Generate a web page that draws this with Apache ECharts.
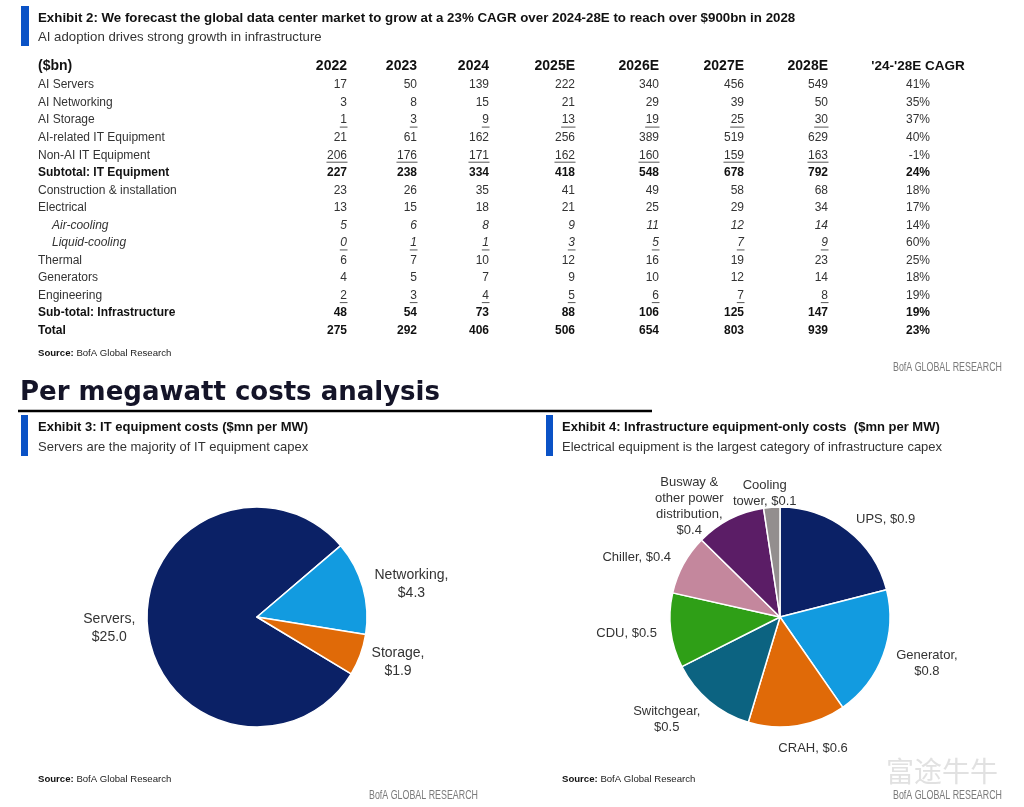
<!DOCTYPE html>
<html>
<head>
<meta charset="utf-8">
<script src="https://cdn.jsdelivr.net/npm/echarts@6/dist/echarts.min.js"></script>
<style>html,body{margin:0;padding:0;background:#fff}#c{width:1024px;height:807px}</style>
</head>
<body>
<div id="c"></div>
<script>
// ---------- Exhibit 2 table data ----------
const years = ['2022', '2023', '2024', '2025E', '2026E', '2027E', '2028E'];
const cagrHeader = "'24-'28E CAGR";
const rowLabels = [
  'AI Servers', 'AI Networking', 'AI Storage', 'AI-related IT Equipment', 'Non-AI IT Equipment',
  'Subtotal: IT Equipment', 'Construction & installation', 'Electrical', 'Air-cooling', 'Liquid-cooling',
  'Thermal', 'Generators', 'Engineering', 'Sub-total: Infrastructure', 'Total'
];
const aiServers     = [17, 50, 139, 222, 340, 456, 549];
const aiNetworking  = [3, 8, 15, 21, 29, 39, 50];
const aiStorage     = [1, 3, 9, 13, 19, 25, 30];
const aiRelatedIT   = [21, 61, 162, 256, 389, 519, 629];
const nonAiIT       = [206, 176, 171, 162, 160, 159, 163];
const subtotalIT    = [227, 238, 334, 418, 548, 678, 792];
const construction  = [23, 26, 35, 41, 49, 58, 68];
const electrical    = [13, 15, 18, 21, 25, 29, 34];
const airCooling    = [5, 6, 8, 9, 11, 12, 14];
const liquidCooling = [0, 1, 1, 3, 5, 7, 9];
const thermal       = [6, 7, 10, 12, 16, 19, 23];
const generators    = [4, 5, 7, 9, 10, 12, 14];
const engineering   = [2, 3, 4, 5, 6, 7, 8];
const subtotalInfra = [48, 54, 73, 88, 106, 125, 147];
const totalRow      = [275, 292, 406, 506, 654, 803, 939];
const cagr = [41, 35, 37, 40, -1, 24, 18, 17, 14, 60, 25, 18, 19, 19, 23];

// ---------- Exhibit 3 / 4 pie data ----------
const itNames = ['Servers', 'Networking', 'Storage'];
const itValues = [25.0, 4.3, 1.9];
const infraNames = ['UPS', 'Generator', 'CRAH', 'Switchgear', 'CDU', 'Chiller',
  'Busway &\nother power\ndistribution', 'Cooling\ntower'];
const infraValues = [0.88, 0.81, 0.60, 0.54, 0.46, 0.37, 0.43, 0.10];

// ---------- styles ----------
const tableRows = [aiServers, aiNetworking, aiStorage, aiRelatedIT, nonAiIT, subtotalIT, construction,
  electrical, airCooling, liquidCooling, thermal, generators, engineering, subtotalInfra, totalRow];
const boldRows = [5, 13, 14];
const italicRows = [8, 9];
const underlineRows = [2, 4, 9, 12];
const infraBreak = [false, true, false, true, false, false, true, false];
const itColors = ['#0b2166', '#129be0', '#e06a08'];
const infraColors = ['#0b2166', '#129be0', '#e06a08', '#0c6381', '#2f9f17', '#c4879d', '#5b1d66', '#938e8e'];

const FONT = '"Liberation Sans", Arial, Helvetica, sans-serif';
const mctx = document.createElement('canvas').getContext('2d');
function fontStr(size, weight, italic) {
  return (italic ? 'italic ' : '') + (weight || 'normal') + ' ' + size + 'px ' + FONT;
}
function measure(text, font) { mctx.font = font; return mctx.measureText(text).width; }
function T(text, x, y, font, fill, align, extra) {
  const el = { type: 'text', x: x, y: y, silent: true,
    style: { text: text, font: font, fill: fill || '#333', align: align || 'left', verticalAlign: 'middle' } };
  if (extra) Object.assign(el, extra);
  return el;
}

const els = [];
// Exhibit 2 header
els.push({ type: 'rect', shape: { x: 21, y: 6, width: 8, height: 40 }, style: { fill: '#0a52c6' }, silent: true });
els.push(T('Exhibit 2: We forecast the global data center market to grow at a 23% CAGR over 2024-28E to reach over $900bn in 2028',
  38, 18, fontStr(13.3, 'bold'), '#111'));
els.push(T('AI adoption drives strong growth in infrastructure', 38, 37, fontStr(13.2), '#333'));

// table header
const colRight = [347, 417, 489, 575, 659, 744, 828];
const cagrRight = 930, cagrCenter = 918;
const headY = 66;
els.push(T('($bn)', 38, headY, fontStr(14, 'bold'), '#111'));
years.forEach((y, j) => els.push(T(y, colRight[j], headY, fontStr(14, 'bold'), '#111', 'right')));
els.push(T(cagrHeader, cagrCenter, headY, fontStr(13.5, 'bold'), '#111', 'center'));

// table rows
tableRows.forEach((vals, i) => {
  const y = 85 + i * 17.55;
  const bold = boldRows.indexOf(i) >= 0;
  const ital = italicRows.indexOf(i) >= 0;
  const under = underlineRows.indexOf(i) >= 0;
  const color = bold ? '#111' : '#333';
  els.push(T(rowLabels[i], ital ? 52 : 38, y, fontStr(12, bold ? 'bold' : 'normal', ital), color));
  vals.forEach((v, j) => {
    const f = fontStr(12, bold ? 'bold' : 'normal', ital);
    const s = String(v);
    els.push(T(s, colRight[j], y, f, color, 'right'));
    if (under) {
      const w = measure(s, f);
      els.push({ type: 'line', silent: true, shape: { x1: colRight[j] - w - 0.5, y1: y + 7, x2: colRight[j] + 0.5, y2: y + 7 },
        style: { stroke: '#555', lineWidth: 1 } });
    }
  });
  els.push(T(cagr[i] + '%', cagrRight, y, fontStr(12, bold ? 'bold' : 'normal'), color, 'right'));
});

function sourceText(x, y) {
  return { type: 'text', x: x, y: y, silent: true,
    style: { text: '{b|Source:} BofA Global Research', font: fontStr(9.6), fill: '#222', verticalAlign: 'middle',
      rich: { b: { fontWeight: 'bold', fontSize: 9.6, fontFamily: FONT, fill: '#111' } } } };
}
function bofaMark(xRight, y) {
  const f = fontStr(12);
  const w = measure('BofA GLOBAL RESEARCH', f);
  const sx = 109 / w;
  return { type: 'text', x: xRight - 109, y: y, scaleX: sx, silent: true,
    style: { text: 'BofA GLOBAL RESEARCH', font: f, fill: '#7a7a7a', verticalAlign: 'middle' } };
}
els.push(sourceText(38, 353));
els.push(bofaMark(1002, 368));

// section heading
els.push(T('Per megawatt costs analysis', 20, 393, 'bold 26px "DejaVu Sans", Verdana, sans-serif', '#141428'));
els.push({ type: 'line', silent: true, shape: { x1: 18, y1: 411, x2: 652, y2: 411 }, style: { stroke: '#000', lineWidth: 2.5 } });

// Exhibit 3 header
els.push({ type: 'rect', shape: { x: 21, y: 415, width: 7, height: 41 }, style: { fill: '#0a52c6' }, silent: true });
els.push(T('Exhibit 3: IT equipment costs ($mn per MW)', 38, 427, fontStr(13, 'bold'), '#111'));
els.push(T('Servers are the majority of IT equipment capex', 38, 447, fontStr(13), '#333'));
// Exhibit 4 header
els.push({ type: 'rect', shape: { x: 546, y: 415, width: 7, height: 41 }, style: { fill: '#0a52c6' }, silent: true });
els.push(T('Exhibit 4: Infrastructure equipment-only costs  ($mn per MW)', 562, 427, fontStr(13, 'bold'), '#111'));
els.push(T('Electrical equipment is the largest category of infrastructure capex', 562, 447, fontStr(13), '#333'));

els.push(sourceText(38, 779));
els.push(sourceText(562, 779));
els.push(bofaMark(478, 796));
els.push(bofaMark(1002, 796));
// watermark
els.push(T('富途牛牛', 886, 771, '28px "Noto Sans CJK SC", sans-serif', 'rgba(200,200,200,0.55)'));

// label placement: put each label just outside the slice along its mid-angle ray
function outsideLayout(gap) {
  return function (p) {
    const pts = p.labelLinePoints;
    if (!pts) return {};
    const dx = pts[1][0] - pts[0][0], dy = pts[1][1] - pts[0][1];
    const L = Math.hypot(dx, dy) || 1;
    const ux = dx / L, uy = dy / L;
    const ax = pts[0][0] + ux * gap, ay = pts[0][1] + uy * gap;
    const side = Math.min(1, Math.abs(ux) / 0.4) * (ux < 0 ? -1 : 1);
    return { x: ax + side * p.labelRect.width / 2, y: ay + Math.max(0, uy) * 9,
      align: 'center', verticalAlign: 'middle' };
  };
}

const chart = echarts.init(document.getElementById('c'), null, { renderer: 'canvas' });
chart.setOption({
  animation: false,
  backgroundColor: '#fff',
  series: [
    {
      type: 'pie', center: [257, 617], radius: 110, startAngle: 328.9, clockwise: true,
      avoidLabelOverlap: false, silent: true,
      data: itNames.map((n, i) => ({ name: n, value: itValues[i], itemStyle: { color: itColors[i] } })),
      itemStyle: { borderColor: '#fff', borderWidth: 1.5 },
      label: { show: true, position: 'outside', fontFamily: FONT, fontSize: 14, lineHeight: 18, color: '#333',
        formatter: p => p.name + ',\n$' + p.value.toFixed(1) },
      labelLine: { show: true, length: 10, length2: 0, lineStyle: { opacity: 0 } },
      labelLayout: outsideLayout(12)
    },
    {
      type: 'pie', center: [780, 617], radius: 110, startAngle: 90, clockwise: true,
      avoidLabelOverlap: false, silent: true,
      data: infraNames.map((n, i) => ({ name: n, value: infraValues[i], itemStyle: { color: infraColors[i] } })),
      itemStyle: { borderColor: '#fff', borderWidth: 1.5 },
      label: { show: true, position: 'outside', fontFamily: FONT, fontSize: 13, lineHeight: 16, color: '#333',
        formatter: p => p.name + ',' + (infraBreak[p.dataIndex] ? '\n' : ' ') + '$' + p.value.toFixed(1) },
      labelLine: { show: true, length: 10, length2: 0, lineStyle: { opacity: 0 } },
      labelLayout: outsideLayout(14)
    }
  ],
  graphic: { elements: els }
});
</script>
</body>
</html>
